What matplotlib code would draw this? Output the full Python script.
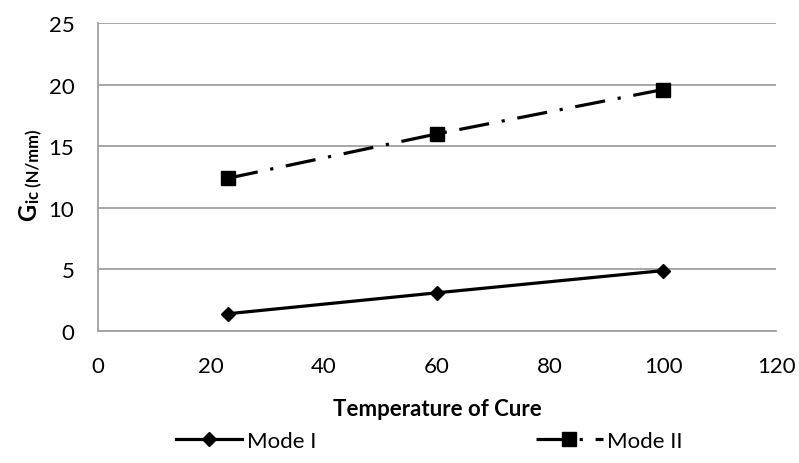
import matplotlib
matplotlib.use("Agg")
import matplotlib.pyplot as plt

# Fracture toughness versus cure temperature
temperature = [23, 60, 100]
mode_i = [1.4, 3.1, 4.9]
mode_ii = [12.4, 16.0, 19.6]
series_labels = ["Mode I", "Mode II"]
x_ticks = [0, 20, 40, 60, 80, 100, 120]
y_ticks = [0, 5, 10, 15, 20, 25]

plt.rcParams["font.family"] = ["Lato", "DejaVu Sans"]

fig = plt.figure(figsize=(7.99, 4.64), dpi=100)
ax = fig.add_axes([0.1227, 0.2845, 0.8486, 0.6638])

grid_color = "#a0a0a0"
ax.set_xlim(0, 120)
ax.set_ylim(0, 25)
ax.set_xticks(x_ticks)
ax.set_yticks(y_ticks)
ax.yaxis.grid(True, color=grid_color, linewidth=1.3)
ax.set_axisbelow(True)
for side in ("top", "right"):
    ax.spines[side].set_visible(False)
for side in ("left", "bottom"):
    ax.spines[side].set_color(grid_color)
    ax.spines[side].set_linewidth(1.3)
ax.tick_params(axis="y", length=0, labelsize=16, pad=17)
ax.tick_params(axis="x", length=0, labelsize=16, pad=18)

ax.plot(temperature, mode_i, color="black", linewidth=2.3, marker="D",
        markersize=7.5, label=series_labels[0], clip_on=False)
ax.plot(temperature, mode_ii, color="black", linewidth=2.3,
        linestyle=(0, (9.5, 4, 1, 4)), dash_capstyle="butt", marker="s",
        markersize=10, label=series_labels[1], clip_on=False)

ax.set_xlabel("Temperature of Cure", fontsize=16, fontweight="bold", labelpad=16)

# y-axis title: bold "G" with a smaller bold subscript, read bottom to top
g_text = ax.text(-0.103, 0.36, "G", rotation=90, transform=ax.transAxes,
                 fontsize=17, fontweight="bold", ha="center", va="bottom")
ax.annotate("ic (N/mm)", xy=(1.0, 1.0), xycoords=g_text,
            xytext=(2, 1), textcoords="offset points", rotation=90,
            fontsize=12, fontweight="bold", ha="right", va="bottom")

fig.legend(loc="lower center", bbox_to_anchor=(0.537, -0.017), ncol=2, frameon=False,
           fontsize=16, handlelength=3.0, columnspacing=9.9, handletextpad=0.2)

fig.savefig("out.png", dpi=100)
